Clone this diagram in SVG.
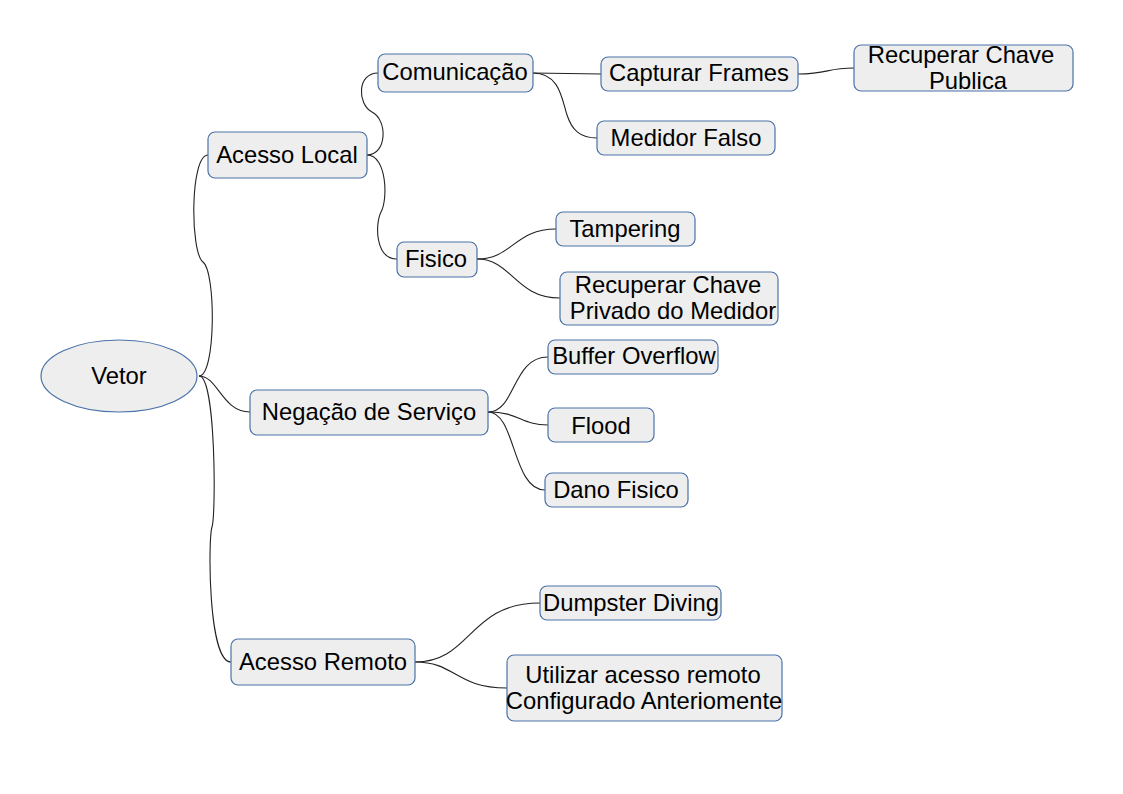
<svg xmlns="http://www.w3.org/2000/svg" width="1123" height="794" viewBox="0 0 1123 794">
<style>
.n{fill:#eeeeee;stroke:#4a72a8;stroke-width:1.2}
.t{font-family:"Liberation Sans",Arial,sans-serif;font-size:23.8px;fill:#000;text-anchor:middle}
.c{fill:none;stroke:#222;stroke-width:1.1}
</style>
<rect width="1123" height="794" fill="#fff"/>
<g id="connectors">
<path class="c" d="M199,376 C216,376 216,272 203,262 C190,252 190,155 208,155"/>
<path class="c" d="M199,376 C218,376 222,412 250,412"/>
<path class="c" d="M199,376 C216,376 216,515 212,527 C208,540 208,662 231,662"/>
<path class="c" d="M367,155 C387,155 388,120 372,112 C357,104 357,73 378,73"/>
<path class="c" d="M367,155 C387,155 388,200 381,212 C375,224 375,259 397,259"/>
<path class="c" d="M533,73 C565,73 570,74 601,74"/>
<path class="c" d="M533,73 C560,73 562,100 567,115 C572,130 580,138 597,138"/>
<path class="c" d="M798,74 C830,74 825,68 854,68"/>
<path class="c" d="M477,259 C512,259 515,229 556,229"/>
<path class="c" d="M477,259 C512,259 515,298 560,298"/>
<path class="c" d="M488,412 C516,412 512,357 548,357"/>
<path class="c" d="M488,412 C520,412 520,425 548,425"/>
<path class="c" d="M488,412 C516,412 512,490 545,490"/>
<path class="c" d="M415,662 C472,662 468,603 540,603"/>
<path class="c" d="M415,662 C456,662 455,688 507,688"/>
</g>
<g id="vetor"><ellipse class="n" cx="119" cy="376" rx="78" ry="36"/><text class="t" x="119" y="384">Vetor</text></g>
<g id="acesso-local"><rect class="n" x="208" y="132" width="159" height="46" rx="7"/><text class="t" x="287" y="163">Acesso Local</text></g>
<g id="comunicacao"><rect class="n" x="378" y="54" width="155" height="38" rx="7"/><text class="t" x="455" y="80">Comunicação</text></g>
<g id="capturar-frames"><rect class="n" x="601" y="57" width="197" height="34" rx="7"/><text class="t" x="699" y="81">Capturar Frames</text></g>
<g id="chave-publica"><rect class="n" x="854" y="45" width="219" height="46" rx="7"/><text class="t" x="961" y="63">Recuperar Chave</text><text class="t" x="968" y="89">Publica</text></g>
<g id="medidor-falso"><rect class="n" x="597" y="121" width="178" height="34" rx="7"/><text class="t" x="686" y="146">Medidor Falso</text></g>
<g id="fisico"><rect class="n" x="397" y="242" width="80" height="35" rx="7"/><text class="t" x="436" y="267">Fisico</text></g>
<g id="tampering"><rect class="n" x="556" y="212" width="139" height="34" rx="7"/><text class="t" x="625" y="237">Tampering</text></g>
<g id="chave-privado"><rect class="n" x="560" y="272" width="218" height="53" rx="7"/><text class="t" x="668" y="293">Recuperar Chave</text><text class="t" x="673" y="319">Privado do Medidor</text></g>
<g id="negacao"><rect class="n" x="250" y="390" width="238" height="45" rx="7"/><text class="t" x="369" y="420">Negação de Serviço</text></g>
<g id="buffer-overflow"><rect class="n" x="548" y="340" width="170" height="34" rx="7"/><text class="t" x="634" y="364">Buffer Overflow</text></g>
<g id="flood"><rect class="n" x="548" y="408" width="106" height="34" rx="7"/><text class="t" x="601" y="434">Flood</text></g>
<g id="dano-fisico"><rect class="n" x="545" y="473" width="143" height="34" rx="7"/><text class="t" x="616" y="498">Dano Fisico</text></g>
<g id="acesso-remoto"><rect class="n" x="231" y="639" width="184" height="46" rx="7"/><text class="t" x="323" y="670">Acesso Remoto</text></g>
<g id="dumpster"><rect class="n" x="540" y="586" width="181" height="34" rx="7"/><text class="t" x="631" y="611">Dumpster Diving</text></g>
<g id="utilizar"><rect class="n" x="507" y="655" width="275" height="66" rx="7"/><text class="t" x="643" y="683">Utilizar acesso remoto</text><text class="t" x="644" y="709">Configurado Anteriomente</text></g>
</svg>
